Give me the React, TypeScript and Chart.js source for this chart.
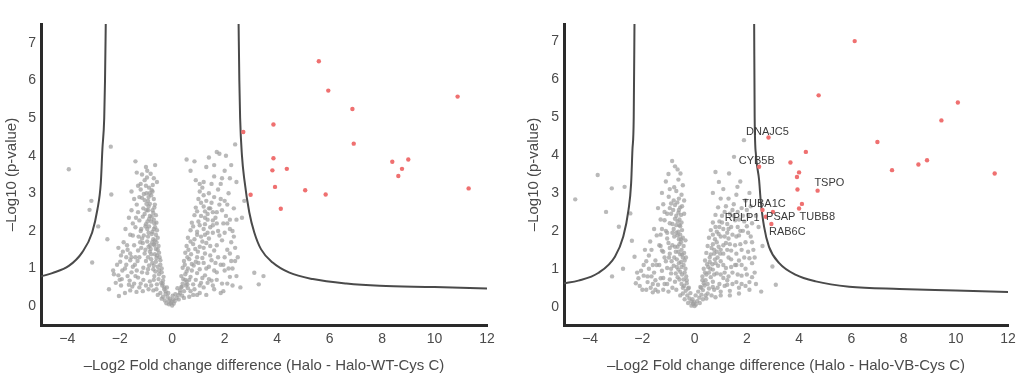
import React, { useEffect, useRef } from "react";
import { Chart, registerables } from "chart.js";
Chart.register(...registerables);

const xTicks = [-4, -2, 0, 2, 4, 6, 8, 10, 12];
const yTicks = [0, 1, 2, 3, 4, 5, 6, 7];
const yTitle = "–Log10 (p-value)";
const wtXTitle = "–Log2 Fold change difference (Halo - Halo-WT-Cys C)";
const vbXTitle = "–Log2 Fold change difference (Halo - Halo-VB-Cys C)";

// ---------- Panel A: Halo vs Halo-WT-Cys C ----------
const wtGray: number[][] = [
  [0,0.02],[-0.05,0.08],[0.06,0.07],[-0.12,0.15],[0.1,0.14],[-0.18,0.25],[0.17,0.22],[-0.08,0.2],[0.04,0.18],[-0.25,0.33],
  [0.24,0.3],[-0.15,0.35],[0.12,0.32],[-0.3,0.45],[0.3,0.42],[-0.2,0.5],[0.2,0.48],[-0.38,0.55],[0.36,0.52],[-0.02,0.12],[0.02,0.28],
  [-0.42,0.62],[-0.58,0.58],[-0.85,0.66],[-1.2,0.6],[-1.65,0.57],[-2.0,0.7],
  [-0.33,0.78],[-0.5,0.85],[-0.68,0.8],[-0.95,0.88],[-1.3,0.76],[-1.55,0.9],[-2.05,0.82],
  [-0.4,1.0],[-0.55,1.05],[-0.72,0.98],[-0.88,1.08],[-1.1,1.02],[-1.42,1.1],[-1.8,1.0],
  [-0.45,1.22],[-0.62,1.18],[-0.8,1.25],[-1.0,1.2],[-1.25,1.3],[-1.6,1.22],[-1.95,1.35],
  [-0.5,1.42],[-0.66,1.38],[-0.85,1.45],[-1.05,1.4],[-1.3,1.48],[-1.7,1.5],
  [-0.52,1.6],[-0.7,1.65],[-0.9,1.58],[-1.12,1.68],[-1.45,1.62],[-1.85,1.7],
  [-0.55,1.82],[-0.72,1.78],[-0.92,1.85],[-1.15,1.8],[-1.5,1.88],
  [-0.58,2.02],[-0.75,1.98],[-0.95,2.05],[-1.2,2.0],[-1.4,2.1],[-0.65,2.1],
  [-0.6,2.22],[-0.8,2.25],[-1.0,2.18],[-1.25,2.28],[-0.7,2.3],
  [-0.62,2.42],[-0.85,2.4],[-1.05,2.45],[-1.3,2.5],[-0.75,2.55],
  [-0.68,2.62],[-0.9,2.65],[-1.1,2.6],[-1.35,2.7],
  [-0.7,2.85],[-0.92,2.8],[-1.15,2.88],[-0.8,2.95],
  [-0.75,3.05],[-0.98,3.0],[-1.2,3.1],[-0.88,3.15],
  [-1.05,3.35],[-0.7,3.4],[-1.35,3.55],[-0.65,3.75],[-1.4,3.85],[-0.95,3.6],
  [-0.3,0.5],[-0.35,0.68],[-0.4,0.9],[-0.45,1.1],[-0.48,1.3],[-0.55,1.5],[-0.6,1.7],[-0.62,1.9],[-0.25,0.4],
  [-0.82,1.52],[-0.95,1.72],[-0.78,1.92],[-1.02,2.12],[-0.88,2.32],[-0.72,2.48],[-0.98,2.55],[-0.85,2.72],[-1.05,2.82],[-0.78,3.08],
  [-1.0,3.2],[-0.9,2.9],[-0.68,1.62],[-0.6,1.28],[-0.7,1.08],[-0.92,1.3],[-1.18,1.55],[-1.28,1.85],[-1.38,2.35],[-1.5,2.2],
  [-1.6,1.4],[-1.75,1.1],[-1.9,0.95],[-1.4,0.8],[-1.1,0.7],[-0.8,0.55],[-0.6,0.45],[-0.45,0.35],[-0.35,0.25],[-0.9,0.45],[-1.25,0.5],[-1.6,0.42],
  [-0.52,0.72],[-0.64,0.92],[-0.76,1.15],[-0.58,1.35],[-0.84,1.62],[-0.66,1.75],[-0.9,1.95],[-0.7,2.05],[-0.94,2.25],[-0.78,2.38],
  [-1.12,2.38],[-0.66,2.7],[-0.98,2.72],[-0.86,3.0],[-1.08,2.98],[-0.74,3.22],[-0.96,3.42],[-1.2,3.25],[-1.18,2.05],[-1.08,1.88],
  [-1.22,1.7],[-1.32,1.2],[-1.5,1.05],[-1.7,0.8],[-1.45,0.6],[-1.0,0.55],[-0.72,0.42],[-0.55,0.3],[-0.4,0.2],[-0.28,0.15],
  [-0.22,0.08],[-0.12,0.05],[-0.7,0.7],[-0.92,0.98],[-1.15,0.9],[-1.35,0.95],[-1.55,1.3],[-1.75,1.3],[-2.1,1.1],[-1.95,0.55],
  [-1.8,0.35],[-0.5,0.95],[-0.36,0.6],[-0.62,1.52],[-0.8,1.38],[-1.02,1.5],[-0.76,1.7],[-0.88,2.12],[-0.68,2.2],[-0.92,2.55],
  [-1.25,2.9],[-1.55,2.55],[-1.6,1.9],[-1.0,3.7],
  [-2.15,0.62],[-1.98,1.18],[-1.88,1.45],[-1.72,1.62],[-1.62,0.68],[-1.52,0.52],[-1.36,0.38],[-1.12,0.4],[-2.25,0.95],[-1.92,0.72],
  [-1.78,2.05],[-1.65,2.35],[-1.45,2.85],[-1.3,3.2],[-1.55,3.05],[-1.15,3.5],[-0.82,3.52],[-0.58,3.3],[-2.05,1.55],[-1.4,1.3],
  [0.4,0.6],[0.55,0.65],[0.8,0.58],[1.1,0.62],[1.5,0.68],[1.9,0.6],
  [0.35,0.8],[0.5,0.85],[0.7,0.78],[0.95,0.88],[1.25,0.82],[1.7,0.9],[2.2,0.78],
  [0.4,1.02],[0.6,1.0],[0.82,1.08],[1.05,0.98],[1.4,1.05],[1.85,1.1],[2.3,1.0],
  [0.45,1.2],[0.65,1.25],[0.9,1.18],[1.15,1.28],[1.5,1.22],[2.0,1.3],
  [0.5,1.42],[0.72,1.38],[0.98,1.45],[1.25,1.4],[1.6,1.48],[2.1,1.5],
  [0.55,1.6],[0.8,1.65],[1.05,1.58],[1.3,1.68],[1.7,1.62],[2.25,1.7],
  [0.6,1.82],[0.85,1.78],[1.1,1.85],[1.4,1.8],[1.8,1.88],
  [0.7,2.02],[0.95,1.98],[1.2,2.05],[1.45,2.1],[1.75,2.0],[2.2,2.05],
  [0.75,2.22],[1.0,2.25],[1.25,2.18],[1.55,2.28],[1.95,2.2],
  [0.85,2.42],[1.1,2.4],[1.35,2.45],[1.7,2.5],[2.05,2.4],
  [0.9,2.62],[1.2,2.65],[1.45,2.6],[1.8,2.7],
  [1.0,2.85],[1.3,2.8],[1.6,2.9],[2.0,2.8],
  [1.05,3.05],[1.4,3.0],[1.75,3.1],[2.15,3.0],
  [1.2,3.3],[1.6,3.45],[0.9,3.35],[2.0,3.6],[1.3,3.7],[0.7,3.6],[0.55,3.9],[1.7,4.1],[1.8,4.05],[2.05,4.0],[2.4,4.3],
  [0.3,0.35],[0.45,0.4],[0.6,0.48],[0.85,0.45],[1.2,0.5],[1.6,0.45],[0.5,0.7],[0.75,0.95],[1.0,1.15],[1.2,1.55],
  [1.35,1.95],[1.25,2.35],[1.55,2.15],[1.4,2.6],[1.1,2.75],[1.65,2.35],[1.9,2.55],[2.2,2.3],[2.35,1.85],[2.4,1.2],
  [2.1,0.6],[1.85,0.35],[1.3,0.3],[0.95,0.3],[0.65,0.25],[0.45,0.22],[0.35,0.5],[1.5,3.25],[1.85,3.25],[2.2,3.4],[1.15,3.15],
  [0.25,0.18],[0.38,0.28],[0.52,0.55],[0.65,0.7],[0.9,0.7],[1.15,0.75],[1.4,0.72],[1.7,0.7],[2.0,0.95],[0.55,0.92],
  [0.75,1.12],[0.95,1.3],[1.2,1.15],[1.45,1.35],[1.75,1.3],[2.2,1.4],[0.62,1.5],[0.88,1.52],[1.15,1.72],[1.45,1.6],
  [1.9,1.75],[0.7,1.72],[0.95,1.9],[1.25,1.9],[1.55,1.95],[2.0,1.95],[0.8,2.12],[1.05,2.15],[1.35,2.3],[1.7,2.2],
  [2.1,2.2],[0.95,2.52],[1.25,2.52],[1.55,2.5],[1.85,2.85],[1.2,2.95],[1.5,2.75],[1.05,3.25],[1.9,3.4],[0.8,0.3],
  [1.05,0.55],[1.55,0.55],[2.3,0.55],[1.3,1.0],[1.6,0.95],[0.42,0.72],[0.48,1.1],[0.58,1.3],[2.35,2.6],[2.45,3.3],
  [2.45,0.8],[2.25,1.2],[2.4,1.55],[2.3,2.0],[2.45,2.3],[2.1,2.7],[1.95,0.4],[2.15,1.0],[1.6,3.75],[1.4,3.95],
  [0.85,3.85],[2.25,3.75],[1.95,1.1],[1.65,1.15],[1.35,0.62],[1.05,0.35],[0.7,0.4],[0.58,0.58],
  [-3.94,3.64],[-2.34,4.24],[-2.32,2.97],[-3.08,2.8],[-3.15,2.56],[-2.82,2.12],[-2.47,1.78],[-3.05,1.16],[-2.22,0.85],
  [-2.41,0.45],[-2.03,0.27],[2.75,2.8],[2.66,2.35],[3.13,0.89],[3.48,0.8],[3.3,0.58],[2.5,1.3],[2.6,0.5]
];
const wtRed: number[][] = [
  [5.59,6.51],[5.95,5.73],[6.87,5.24],[10.88,5.57],[3.86,4.83],[2.71,4.63],[6.92,4.32],[3.86,3.93],[3.82,3.61],[4.37,3.65],
  [8.39,3.84],[9.0,3.9],[8.76,3.65],[8.62,3.46],[3.92,3.17],[2.99,2.96],[5.07,3.08],[5.85,2.97],[4.14,2.59],[11.3,3.13]
];
const wtCurveLeft: number[][] = [
  [-5,0.79],[-4.57,0.88],[-3.94,1.07],[-3.43,1.43],[-3.05,1.96],[-2.85,2.57],[-2.72,3.28],[-2.66,4.17],[-2.59,5],[-2.56,6],[-2.53,7.6]
];
const wtCurveRight: number[][] = [
  [2.53,7.6],[2.56,6],[2.59,5],[2.66,4],[2.75,3.37],[2.94,2.49],[3.13,1.96],[3.39,1.51],[3.83,1.16],[4.47,0.89],
  [5.36,0.72],[6.64,0.6],[7.91,0.54],[10,0.51],[12,0.47]
];

// ---------- Panel B: Halo vs Halo-VB-Cys C ----------
const vbGray: number[][] = [
  [0,0.02],[-0.06,0.08],[0.05,0.06],[-0.12,0.14],[0.1,0.15],[-0.2,0.22],[0.18,0.24],[-0.08,0.2],[0.04,0.3],[-0.28,0.3],
  [0.26,0.32],[-0.16,0.36],[0.14,0.4],[-0.34,0.42],[0.32,0.44],[-0.22,0.5],[0.22,0.52],[-0.4,0.55],[0.38,0.56],[-0.02,0.12],
  [-0.3,0.62],[-0.5,0.6],[-0.75,0.66],[-1.05,0.6],[-1.4,0.58],[-1.8,0.65],[-2.1,0.55],
  [-0.32,0.8],[-0.48,0.85],[-0.65,0.78],[-0.9,0.88],[-1.2,0.76],[-1.55,0.9],[-1.95,0.82],
  [-0.35,1.0],[-0.5,1.05],[-0.62,0.98],[-0.8,1.08],[-1.05,1.02],[-1.35,1.1],[-1.75,1.0],
  [-0.38,1.22],[-0.52,1.18],[-0.68,1.25],[-0.88,1.2],[-1.15,1.3],[-1.5,1.22],
  [-0.4,1.42],[-0.55,1.38],[-0.72,1.45],[-0.95,1.4],[-1.25,1.48],[-1.65,1.5],
  [-0.42,1.6],[-0.58,1.65],[-0.75,1.58],[-1.0,1.68],[-1.35,1.62],
  [-0.45,1.82],[-0.6,1.78],[-0.78,1.85],[-1.05,1.8],[-1.45,1.88],
  [-0.48,2.02],[-0.62,1.98],[-0.8,2.05],[-1.1,2.0],[-0.55,2.12],
  [-0.5,2.22],[-0.65,2.25],[-0.85,2.18],[-1.15,2.28],
  [-0.52,2.42],[-0.7,2.4],[-0.9,2.45],[-0.6,2.55],
  [-0.55,2.62],[-0.75,2.68],[-0.95,2.6],[-1.2,2.7],
  [-0.6,2.85],[-0.8,2.8],[-0.99,2.9],[-0.7,3.05],[-0.54,3.51],[-0.86,3.84],[-0.75,3.7],[-1.1,3.3],[-0.45,3.2],
  [-0.25,0.48],[-0.3,0.7],[-0.38,0.9],[-0.42,1.1],[-0.45,1.3],[-0.5,1.5],[-0.52,1.7],[-0.55,1.9],[-0.58,2.3],[-0.62,1.45],
  [-0.68,1.05],[-0.7,2.15],[-0.58,0.72],[-0.85,0.5],[-1.2,0.45],[-1.6,0.38],[-0.45,0.35],[-0.95,1.55],[-0.65,1.88],[-0.48,2.65],
  [-1.3,1.9],[-1.5,0.7],[-1.85,1.2],[-2.0,0.45],
  [-0.42,0.72],[-0.55,0.92],[-0.6,1.15],[-0.48,1.38],[-0.65,1.58],[-0.52,1.78],[-0.7,1.95],[-0.58,2.15],[-0.75,2.32],[-0.62,2.48],
  [-0.82,2.55],[-0.66,2.75],[-0.9,2.72],[-0.5,2.95],[-0.78,3.15],[-0.62,3.35],[-0.95,3.1],[-0.4,2.45],[-0.35,1.75],[-0.33,1.3],
  [-0.85,1.62],[-0.78,1.3],[-0.9,1.0],[-1.1,1.2],[-1.25,0.95],[-1.3,1.6],[-1.45,1.1],[-1.65,0.8],[-1.75,1.35],[-1.95,1.1],
  [-2.15,0.75],[-1.85,0.45],[-1.4,0.4],[-1.0,0.4],[-0.7,0.45],[-0.55,0.3],[-0.38,0.2],[-0.25,0.1],[-0.12,0.03],[-0.95,0.72],
  [-1.15,0.6],[-1.3,0.75],[-1.6,0.6],[-0.72,0.88],[-0.98,1.3],[-1.2,1.45],[-1.05,1.95],[-0.95,2.2],[-1.3,2.3],[-1.4,2.6],
  [-1.05,2.45],[-0.85,1.95],[-0.45,0.5],
  [-2.05,0.95],[-1.9,1.5],[-1.7,1.72],[-1.55,2.05],[-1.68,0.5],[-1.5,0.45],[-2.25,0.62],[-1.25,2.05],[-1.15,2.5],[-1.25,3.0],
  [-1.0,3.5],[-0.65,3.62],[-0.4,2.8],[-1.8,0.8],[-1.6,1.1],
  [0.35,0.62],[0.5,0.6],[0.7,0.66],[0.95,0.6],[1.25,0.58],[1.6,0.65],[1.95,0.55],
  [0.3,0.8],[0.45,0.85],[0.62,0.78],[0.85,0.88],[1.1,0.76],[1.45,0.9],[1.8,0.82],[2.2,0.78],
  [0.35,1.0],[0.52,1.05],[0.7,0.98],[0.9,1.08],[1.2,1.02],[1.55,1.1],[1.95,1.0],
  [0.4,1.22],[0.58,1.18],[0.78,1.25],[1.0,1.2],[1.3,1.3],[1.7,1.22],[2.1,1.28],
  [0.45,1.42],[0.62,1.38],[0.85,1.45],[1.1,1.4],[1.4,1.48],[1.8,1.5],
  [0.5,1.6],[0.7,1.65],[0.92,1.58],[1.2,1.68],[1.55,1.62],[1.95,1.7],
  [0.55,1.82],[0.78,1.78],[1.0,1.85],[1.3,1.8],[1.7,1.88],[2.15,1.85],
  [0.62,2.02],[0.85,1.98],[1.1,2.05],[1.4,2.1],[1.75,2.0],[2.0,2.12],
  [0.7,2.22],[0.95,2.25],[1.25,2.18],[1.55,2.28],[1.9,2.25],
  [0.8,2.42],[1.05,2.4],[1.35,2.45],[1.65,2.5],[2.05,2.42],
  [0.9,2.62],[1.2,2.65],[1.5,2.7],[1.0,2.85],[1.64,3.16],[0.93,3.29],[1.32,3.51],[1.51,3.95],[1.89,4.39],[2.1,3.0],[0.7,3.0],
  [0.25,0.5],[0.3,0.7],[0.4,0.9],[0.5,0.35],[0.75,0.45],[1.0,0.4],[1.35,0.42],[0.6,1.0],[0.8,1.15],[1.0,1.5],
  [1.15,0.9],[1.4,1.25],[1.25,1.95],[1.5,2.4],[1.6,1.85],[0.65,0.3],[0.45,0.22],[1.7,0.5],[2.3,0.9],[2.25,1.5],
  [2.0,2.55],[1.85,2.4],[0.95,2.1],[0.75,1.5],
  [0.2,0.1],[0.32,0.2],[0.42,0.3],[0.55,0.48],[0.7,0.52],[0.88,0.5],[1.15,0.55],[1.45,0.6],[1.8,0.6],[2.1,0.65],
  [0.42,0.7],[0.55,0.9],[0.75,0.85],[1.0,0.85],[1.3,0.8],[1.65,0.85],[2.0,0.85],[0.48,1.12],[0.68,1.12],[0.88,1.3],
  [1.1,1.1],[1.4,1.05],[1.8,1.1],[2.2,1.15],[0.58,1.3],[0.75,1.4],[0.98,1.4],[1.25,1.5],[1.6,1.4],[2.05,1.45],
  [0.65,1.55],[0.85,1.7],[1.1,1.62],[1.35,1.65],[1.75,1.65],[0.7,1.9],[0.92,1.92],[1.15,1.85],[1.45,1.9],[1.85,2.0],
  [0.8,2.1],[1.05,2.22],[1.3,2.05],[1.7,2.3],[2.2,2.2],[1.15,2.5],[1.45,2.55],[1.8,2.6],[1.3,2.85],[1.6,2.95],
  [1.0,0.3],[1.35,0.3],[1.7,0.35],[0.8,0.25],
  [2.35,0.6],[2.3,1.3],[2.2,1.7],[2.35,2.4],[2.15,2.65],[1.95,2.8],[1.75,3.3],[1.1,3.1],[0.8,3.55],[2.1,0.45],
  [1.9,1.3],[1.6,1.1],[1.25,0.7],[2.05,1.95],[1.65,2.1],
  [-4.57,2.83],[-3.71,3.47],[-3.39,2.5],[-2.9,2.11],[-2.68,3.16],[-2.4,1.74],[-2.74,1.0],[-3.17,3.12],[-2.46,2.46],[-3.16,0.8],
  [-2.3,1.32],[-2.2,0.9],[2.98,1.06],[3.11,0.58],[2.6,1.6],[2.45,2.1],[2.55,0.4]
];
const vbRed: number[][] = [
  [6.13,7.0],[4.75,5.57],[10.08,5.38],[9.45,4.91],[7.0,4.34],[2.83,4.46],[4.26,4.08],[3.67,3.8],[8.57,3.75],[8.9,3.86],
  [7.56,3.6],[11.49,3.51],[4.0,3.54],[3.92,3.42],[3.94,3.09],[4.71,3.06],[4.11,2.71],[4.0,2.59],[2.47,3.69],[2.6,2.55],
  [3.0,2.5],[2.73,2.37],[2.94,2.18]
];
const vbCurveLeft: number[][] = [
  [-5,0.62],[-4.45,0.69],[-3.69,0.89],[-3.05,1.32],[-2.73,1.85],[-2.53,2.55],[-2.43,3.25],[-2.38,4.13],[-2.33,5],[-2.3,7.6]
];
const vbCurveRight: number[][] = [
  [2.28,7.6],[2.3,5],[2.35,4],[2.47,3.34],[2.53,2.81],[2.66,2.11],[2.85,1.58],[3.24,1.15],[3.88,0.84],[4.64,0.67],
  [5.92,0.53],[7.84,0.47],[10,0.43],[12,0.39]
];
const vbLabelNames = ["DNAJC5", "CYB5B", "TSPO", "TUBA1C", "RPLP1", "PSAP", "TUBB8", "RAB6C"];
const vbLabelX = [2.79, 2.38, 5.16, 2.66, 1.82, 3.3, 4.7, 3.55];
const vbLabelY = [4.61, 3.84, 3.25, 2.71, 2.33, 2.36, 2.37, 1.98];

const FONT = "'Liberation Sans', Arial, Helvetica, sans-serif";

type PanelProps = {
  gray: number[][];
  red: number[][];
  curveL: number[][];
  curveR: number[][];
  xTitle: string;
  yMin: number;
  yMax: number;
  padRight: number;
  width: number;
  yAxisWidth: number;
  labels?: { names: string[]; xs: number[]; ys: number[] };
};

function Panel(p: PanelProps) {
  const ref = useRef<HTMLCanvasElement | null>(null);
  useEffect(() => {
    if (!ref.current) return;
    const toPts = (a: number[][]) => a.map(([x, y]) => ({ x, y }));
    const labelPlugin = {
      id: "geneLabels",
      afterDatasetsDraw(chart: any) {
        if (!p.labels) return;
        const ctx = chart.ctx;
        const xs = chart.scales.x;
        const ys = chart.scales.y;
        ctx.save();
        ctx.font = `11px ${FONT}`;
        ctx.fillStyle = "#3a3a3a";
        ctx.textAlign = "center";
        ctx.textBaseline = "middle";
        p.labels.names.forEach((n, i) => {
          ctx.fillText(n, xs.getPixelForValue(p.labels!.xs[i]), ys.getPixelForValue(p.labels!.ys[i]));
        });
        ctx.restore();
      },
    };
    const curveStyle = {
      showLine: true,
      pointRadius: 0,
      borderColor: "#4a4a4a",
      borderWidth: 2,
      cubicInterpolationMode: "monotone" as const,
      fill: false,
    };
    const chart = new Chart(ref.current, {
      type: "scatter",
      data: {
        datasets: [
          { label: "red", data: toPts(p.red), backgroundColor: "#ef7070", borderWidth: 0, pointRadius: 2.2, order: 0 },
          { label: "curveL", data: toPts(p.curveL), ...curveStyle, order: 1 },
          { label: "curveR", data: toPts(p.curveR), ...curveStyle, order: 1 },
          { label: "gray", data: toPts(p.gray), backgroundColor: "rgba(158,158,158,0.72)", borderWidth: 0, pointRadius: 2.2, order: 2 },
        ] as any,
      },
      options: {
        responsive: false,
        animation: false,
        devicePixelRatio: 1,
        layout: { padding: { top: 24, right: p.padRight, bottom: 0, left: 0 } },
        plugins: { legend: { display: false }, tooltip: { enabled: false } },
        scales: {
          x: {
            type: "linear",
            min: -5,
            max: 12,
            afterBuildTicks: (axis: any) => {
              axis.ticks = xTicks.map((v) => ({ value: v }));
            },
            afterFit: (s: any) => {
              s.height = 54;
            },
            grid: { display: true, color: "rgba(0,0,0,0)", drawTicks: false },
            border: { display: true, color: "#2a2a2a", width: 3 },
            ticks: {
              padding: 6,
              color: "#4a4a4a",
              font: { size: 14, family: FONT },
              callback: (v: any) => String(v).replace("-", "−"),
            },
            title: {
              display: true,
              text: p.xTitle,
              color: "#4a4a4a",
              font: { size: 15, family: FONT },
              padding: { top: 0, bottom: 4 },
            },
          },
          y: {
            type: "linear",
            min: p.yMin,
            max: p.yMax,
            afterBuildTicks: (axis: any) => {
              axis.ticks = yTicks.map((v) => ({ value: v }));
            },
            afterFit: (s: any) => {
              s.width = p.yAxisWidth;
            },
            grid: { display: true, color: "rgba(0,0,0,0)", drawTicks: false },
            border: { display: true, color: "#2a2a2a", width: 3 },
            ticks: {
              padding: 5,
              color: "#4a4a4a",
              font: { size: 14, family: FONT },
            },
            title: {
              display: true,
              text: yTitle,
              color: "#4a4a4a",
              font: { size: 15, family: FONT },
              padding: { top: 3, bottom: 0 },
            },
          },
        },
      },
      plugins: [labelPlugin],
    });
    return () => chart.destroy();
  }, []);
  return <canvas ref={ref} width={p.width} height={379} style={{ display: "block" }} />;
}

export default function App() {
  return (
    <div style={{ position: "absolute", left: 0, top: 0, width: 1024, height: 379, background: "#fff", overflow: "hidden" }}>
      <div style={{ position: "absolute", left: 0, top: 0 }}>
        <Panel gray={wtGray} red={wtRed} curveL={wtCurveLeft} curveR={wtCurveRight} xTitle={wtXTitle}
          yMin={-0.5} yMax={7.5} padRight={25} width={512} yAxisWidth={41} />
      </div>
      <div style={{ position: "absolute", left: 522, top: 0 }}>
        <Panel gray={vbGray} red={vbRed} curveL={vbCurveLeft} curveR={vbCurveRight} xTitle={vbXTitle}
          yMin={-0.48} yMax={7.45} padRight={16} width={502} yAxisWidth={42}
          labels={{ names: vbLabelNames, xs: vbLabelX, ys: vbLabelY }} />
      </div>
    </div>
  );
}
